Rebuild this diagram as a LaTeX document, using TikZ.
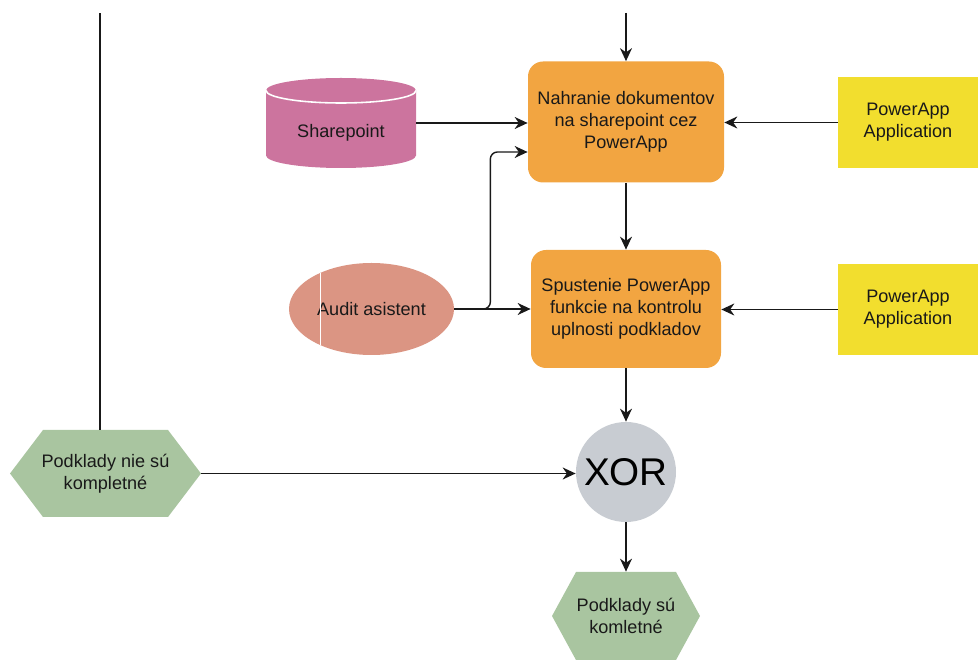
\documentclass[tikz,border=0pt]{standalone}
\usepackage{fontspec}
\setmainfont{Liberation Sans}
\usetikzlibrary{arrows.meta,shapes.geometric,calc}
\definecolor{taskorange}{HTML}{F2A541}
\definecolor{sppink}{HTML}{CC749E}
\definecolor{audsalmon}{HTML}{DB9583}
\definecolor{appyellow}{HTML}{F2DE2E}
\definecolor{evgreen}{HTML}{A9C5A0}
\definecolor{xorgray}{HTML}{C8CCD2}
\tikzset{
  lbl/.style={font=\fontsize{10.3}{12.5}\selectfont, text=black!90, align=center},
  task/.style={lbl, rectangle, rounded corners=0.3cm, fill=taskorange},
  app/.style={lbl, rectangle, fill=appyellow, minimum width=2.8cm, minimum height=1.82cm},
  flow/.style={line width=0.8pt, draw=black!90},
  arr/.style={flow, -{Stealth[length=2.6mm,width=2.4mm]}},
  hexa/.style={lbl, rectangle, inner sep=0pt,
    path picture={\fill[evgreen] (path picture bounding box.west)
      -- ([xshift=#1]path picture bounding box.north west)
      -- ([xshift=-#1]path picture bounding box.north east)
      -- (path picture bounding box.east)
      -- ([xshift=-#1]path picture bounding box.south east)
      -- ([xshift=#1]path picture bounding box.south west) -- cycle;}},
  store/.style={lbl, rectangle, inner sep=0pt,
    path picture={\fill[sppink] ([yshift=-0.25cm]path picture bounding box.north west)
      arc[start angle=180,end angle=0,x radius=1.5cm,y radius=0.25cm]
      -- ([yshift=0.25cm]path picture bounding box.south east)
      arc[start angle=0,end angle=-180,x radius=1.5cm,y radius=0.25cm] -- cycle;
      \draw[white,line width=0.9pt] ([yshift=-0.25cm]path picture bounding box.north west)
      arc[start angle=180,end angle=360,x radius=1.5cm,y radius=0.25cm];}}
}
\begin{document}
\begin{tikzpicture}
\useasboundingbox (0,0) rectangle (19.56,-13.2);
% tasks
\node[task, minimum width=3.92cm, minimum height=2.42cm] (upload) at (12.52,-2.44) {Nahranie dokumentov\\na sharepoint cez\\PowerApp};
\node[task, minimum width=3.8cm, minimum height=2.36cm] (check) at (12.52,-6.18) {Spustenie PowerApp\\funkcie na kontrolu\\uplnosti podkladov};
% inputs
\node[store, minimum width=3cm, minimum height=1.8cm] (sp) at (6.82,-2.46) {\raisebox{-0.29cm}[0pt][0pt]{Sharepoint}};
\node[lbl, ellipse, fill=audsalmon, minimum width=3.3cm, minimum height=1.84cm, inner sep=0pt] (aud) at (7.43,-6.18) {Audit asistent};
\draw[white,line width=0.8pt] ($(aud.center)+(-1.02,0.72)$) -- ($(aud.center)+(-1.02,-0.72)$);
\node[app] (app1) at (18.16,-2.45) {PowerApp\\Application};
\node[app] (app2) at (18.16,-6.19) {PowerApp\\Application};
% gateway and events
\node[circle, fill=xorgray, minimum size=2cm, inner sep=0pt, font=\fontsize{22}{26}\selectfont] (xor) at (12.52,-9.44) {XOR};
\node[hexa=0.66cm, minimum width=3.82cm, minimum height=1.74cm] (nok) at (2.11,-9.47) {Podklady nie sú\\kompletné};
\node[hexa=0.48cm, minimum width=2.96cm, minimum height=1.76cm] (ok) at (12.52,-12.32) {Podklady sú\\komletné};
% connectors
\coordinate (topin) at (12.52,-0.26);
\coordinate (loopend) at (2.0,-0.26);
\draw[arr] (topin) -- (upload.north);
\draw[flow] ([xshift=-0.11cm]nok.north) -- (loopend);
\draw[arr] (sp.east) -- (sp.east -| upload.west);
\draw[arr] (app1.west) -- (app1.west -| upload.east);
\draw[arr, rounded corners=4pt] (aud.east) -- ++(0.72,0) |- ([yshift=-0.6cm]upload.west);
\draw[arr] (aud.east) -- (check.west);
\draw[arr] (app2.west) -- (app2.west -| check.east);
\draw[arr] (upload.south) -- (check.north);
\draw[arr] (check.south) -- (xor.north);
\draw[arr] (nok.east) -- (nok.east -| xor.west);
\draw[arr] (xor.south) -- (ok.north);
\end{tikzpicture}
\end{document}
